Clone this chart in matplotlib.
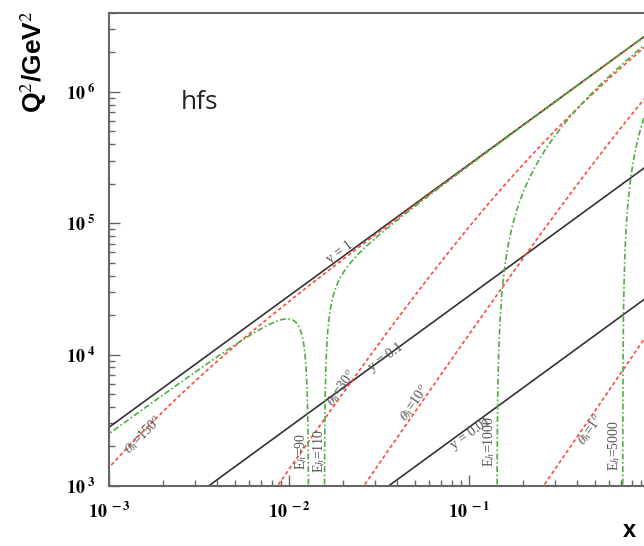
import numpy as np
import matplotlib
matplotlib.use("Agg")
import matplotlib.pyplot as plt
from matplotlib.ticker import FixedLocator, LogLocator, NullFormatter

# beam energies (GeV)
E_e = 100.0
E_p = 7000.0
s = 4 * E_e * E_p

# lines of constant inelasticity, hadron angle and hadron energy
y_values = [1.0, 0.1, 0.01]
theta_values = [150.0, 30.0, 10.0, 1.0]
Eh_values = [90.0, 110.0, 1000.0, 5000.0]

# label texts and positions (x, Q2, rotation)
y_labels = ["y = 1", "y = 0.1", "y = 0.01"]
y_label_pos = [(0.0192, 6.0e4, 36), (0.0345, 9.6e3, 36), (0.1026, 2.5e3, 36)]
theta_labels = [r"$\theta_h$=150$^o$", r"$\theta_h$=30$^o$", r"$\theta_h$=10$^o$", r"$\theta_h$=1$^o$"]
theta_label_pos = [(1.55e-3, 2.45e3, 45), (0.0195, 5.6e3, 55), (0.0494, 4.3e3, 55), (0.47, 2.7e3, 55)]
Eh_labels = [r"E$_h$=90", r"E$_h$=110", r"E$_h$=1000", r"E$_h$=5000"]
Eh_label_pos = [(0.0117, 1.85e3, 90), (0.0146, 1.85e3, 90), (0.130, 2.2e3, 90), (0.640, 2.05e3, 90)]

xticks = [1e-3, 1e-2, 1e-1]
xtick_labels = [r"$\mathbf{10^{\ -3}}$", r"$\mathbf{10^{\ -2}}$", r"$\mathbf{10^{\ -1}}$"]
yticks = [1e3, 1e4, 1e5, 1e6]
ytick_labels = [r"$\mathbf{10^{\ 3}}$", r"$\mathbf{10^{\ 4}}$", r"$\mathbf{10^{\ 5}}$", r"$\mathbf{10^{\ 6}}$"]


def kin(E, th):
    # hadron method: y, Q2, x from hadron energy and polar angle
    omc = 2 * np.sin(th / 2) ** 2
    y = E * omc / (2 * E_e)
    Q2 = (E * np.sin(th)) ** 2 / (1 - y)
    x = Q2 / (s * y)
    return x, Q2


plt.rcParams['mathtext.fontset'] = 'stix'
fig = plt.figure(figsize=(6.44, 5.46), dpi=100)
ax = fig.add_axes([0.1693, 0.1099, 0.8385, 0.8668])
ax.set_xscale('log')
ax.set_yscale('log')

xx = np.logspace(-3.5, 0.5, 200)
for yv in y_values:
    ax.plot(xx, s * xx * yv, color='#333333', lw=1.2)

for th in theta_values:
    t = np.radians(th)
    yy = np.concatenate([np.logspace(-7, -0.31, 400), 1 - np.logspace(-0.31, -8, 400)])
    E = 2 * E_e * yy / (2 * np.sin(t / 2) ** 2)
    x, Q2 = kin(E, t)
    ax.plot(x, Q2, color='#ff4a3d', lw=1.2, ls=(0, (2.2, 1.6)))

for E in Eh_values:
    c = 2 * E_e / E
    if c >= 2:
        tmax = np.pi
    else:
        tmax = np.arccos(1 - c)
    tt = np.concatenate([np.logspace(-5, np.log10(tmax / 2), 500),
                         tmax - np.logspace(np.log10(tmax / 2), -9, 500)])
    x, Q2 = kin(E, tt)
    ok = np.isfinite(x) & np.isfinite(Q2) & (Q2 > 0)
    ax.plot(x[ok], Q2[ok], color='#4caf3c', lw=1.2, ls=(0, (3.5, 1.5, 1, 1.5)))

for lab, (px, py, r) in zip(y_labels, y_label_pos):
    ax.text(px, py, lab, rotation=r, ha='center', va='center', rotation_mode='anchor',
            fontsize=10, color='#555555', family='Liberation Serif')
for lab, (px, py, r) in zip(theta_labels, theta_label_pos):
    ax.text(px, py, lab, rotation=r, ha='center', va='center', rotation_mode='anchor',
            fontsize=10, color='#555555', family='Liberation Serif')
for lab, (px, py, r) in zip(Eh_labels, Eh_label_pos):
    ax.text(px, py, lab, rotation=r, ha='center', va='center', rotation_mode='anchor',
            fontsize=10, color='#555555', family='Liberation Serif')

ax.text(0.168, 0.811, "hfs", transform=ax.transAxes, fontsize=19, ha='center', va='center',
        family='Open Sans', color='#222222')

ax.set_xlim(1e-3, 1)
ax.set_ylim(1e3, 4e6)

ax.xaxis.set_major_locator(FixedLocator(xticks))
ax.set_xticklabels(xtick_labels)
ax.yaxis.set_major_locator(FixedLocator(yticks))
ax.set_yticklabels(ytick_labels)
ax.xaxis.set_minor_locator(LogLocator(base=10, subs=np.arange(2, 10)))
ax.yaxis.set_minor_locator(LogLocator(base=10, subs=np.arange(2, 10)))
ax.xaxis.set_minor_formatter(NullFormatter())
ax.yaxis.set_minor_formatter(NullFormatter())
ax.tick_params(which='major', direction='in', length=8, width=1, color='#666666', labelsize=13, pad=10)
ax.tick_params(which='minor', direction='in', length=4, width=1, color='#666666')
ax.tick_params(axis='x', which='major', pad=11)

for sp in ax.spines.values():
    sp.set_color('#666666')
    sp.set_linewidth(1.5)

ax.set_ylabel(r"Q$^2$/GeV$^2$", fontsize=19, fontweight='bold', family='Liberation Sans', loc='top')
ax.yaxis.set_label_coords(-0.112, 1.005)
ax.set_xlabel("x", fontsize=17, fontweight='bold', family='Liberation Sans', loc='right')
ax.xaxis.set_label_coords(0.975, -0.07)

fig.savefig("out.png", dpi=100)
